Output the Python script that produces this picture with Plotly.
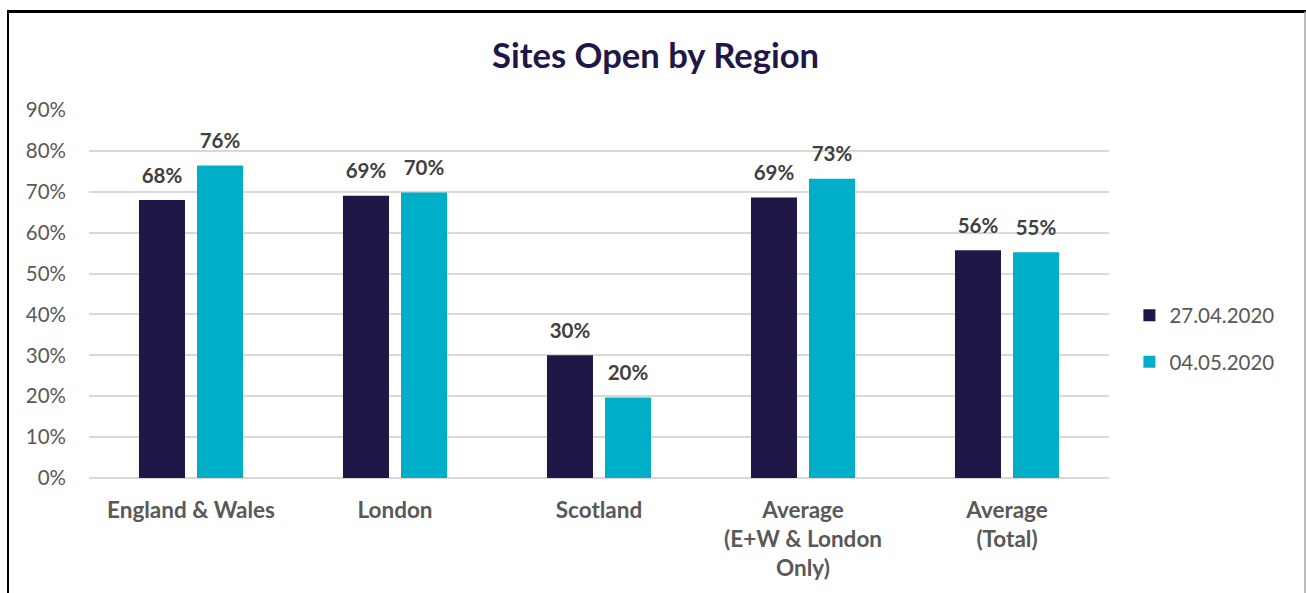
import plotly.graph_objects as go

categories = ["England & Wales", "London", "Scotland",
              "Average<br>(E+W & London<br>Only)", "Average<br>(Total)"]
series_names = ["27.04.2020", "04.05.2020"]
values_2704 = [0.68, 0.69, 0.30, 0.686, 0.557]
values_0405 = [0.764, 0.698, 0.197, 0.732, 0.552]
labels_2704 = ["68%", "69%", "30%", "69%", "56%"]
labels_0405 = ["76%", "70%", "20%", "73%", "55%"]
y_ticks = [0, 0.1, 0.2, 0.3, 0.4, 0.5, 0.6, 0.7, 0.8, 0.9]
y_ticklabels = ["0%", "10%", "20%", "30%", "40%", "50%", "60%", "70%", "80%", "90%"]

colors = ["#201747", "#00AEC7"]
FONT = "Lato"
BARGAP = 0.431

fig = go.Figure()
for i, (name, vals, labs, col) in enumerate([
        (series_names[0], values_2704, labels_2704, colors[0]),
        (series_names[1], values_0405, labels_0405, colors[1])]):
    fig.add_trace(go.Bar(
        x=categories, y=vals, name=name, marker_color=col, marker_line_width=0,
        offsetgroup=str(i), legendgroup=str(i),
    ))
for i, (vals, labs) in enumerate([(values_2704, labels_2704), (values_0405, labels_0405)]):
    fig.add_trace(go.Scatter(
        x=categories, y=vals, mode="markers+text", text=labs,
        textposition="top center", offsetgroup=str(i), showlegend=False,
        marker=dict(size=18, opacity=0), hoverinfo="skip", cliponaxis=False,
        textfont=dict(family=FONT, size=20.5, color="#404040", weight="bold"),
    ))

W, H = 1306, 593
L, R, T, B = 89, 197, 110, 113
fig.update_layout(
    width=W, height=H,
    margin=dict(l=L, r=R, t=T, b=B),
    paper_bgcolor="white", plot_bgcolor="white",
    barmode="group", bargap=BARGAP, bargroupgap=0.207,
    scattermode="group", scattergap=BARGAP,
    title=dict(text="<b>Sites Open by Region</b>", x=0.502, xanchor="center",
               y=1 - 56 / H, yanchor="middle", xref="container",
               font=dict(family=FONT, size=34.6, color="#201747")),
    font=dict(family=FONT),
    legend=dict(x=1.02, y=0.378, xanchor="left", yanchor="middle",
                font=dict(family=FONT, size=20.5, color="#595959"),
                itemwidth=30, tracegroupgap=17, traceorder="grouped"),
    showlegend=True,
)
fig.update_xaxes(showgrid=False, showline=False, ticks="",
                 tickfont=dict(family=FONT, size=22.5, color="#595959", weight="bold"),
                 ticklabelstandoff=16)
fig.update_yaxes(range=[0, 0.9], tickvals=y_ticks, ticktext=y_ticklabels,
                 showgrid=True, gridcolor="#D9D9D9", gridwidth=1.5,
                 zeroline=True, zerolinecolor="#D9D9D9", zerolinewidth=1.5,
                 showline=False, ticks="",
                 tickfont=dict(family=FONT, size=20.5, color="#595959"),
                 ticklabelstandoff=22)

pw, ph = W - L - R, H - T - B
def px_x(p):
    return (p - L) / pw
def px_y(p):
    return (H - B - p) / ph

fig.add_shape(type="line", xref="paper", yref="paper",
              x0=px_x(7), x1=px_x(1306), y0=px_y(11), y1=px_y(11),
              line=dict(color="black", width=3))
fig.add_shape(type="line", xref="paper", yref="paper",
              x0=px_x(8), x1=px_x(8), y0=px_y(10), y1=px_y(600),
              line=dict(color="black", width=2))
fig.add_shape(type="line", xref="paper", yref="paper",
              x0=px_x(1305), x1=px_x(1305), y0=px_y(11), y1=px_y(600),
              line=dict(color="#A6A6A6", width=1.5))

fig.write_html("out.html", config={"displayModeBar": False},
               post_script="document.body.style.margin='0';")
